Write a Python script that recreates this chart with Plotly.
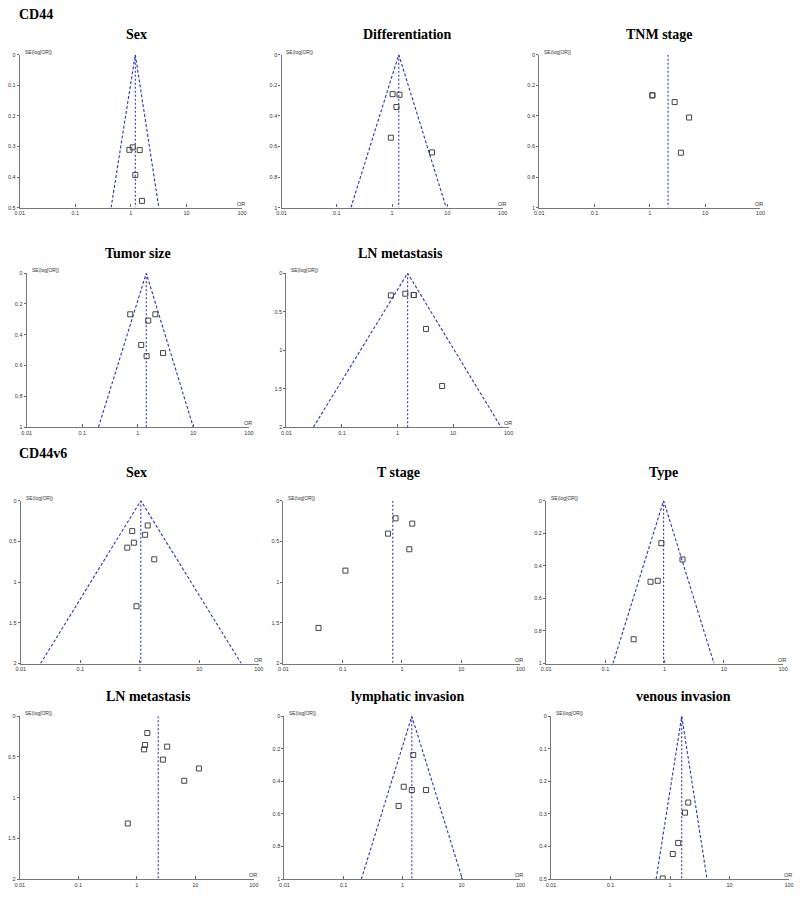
import plotly.graph_objects as go

# ---------------- data ----------------
titles = ["Sex", "Differentiation", "TNM stage", "Tumor size", "LN metastasis",
          "Sex", "T stage", "Type", "LN metastasis", "lymphatic invasion", "venous invasion"]
group_labels = ["CD44", "CD44v6"]

cd44_sex_or = [0.94, 1.08, 1.44, 1.20, 1.58]
cd44_sex_se = [0.311, 0.303, 0.312, 0.393, 0.478]
cd44_diff_or = [1.02, 1.36, 1.20, 0.95, 5.27]
cd44_diff_se = [0.258, 0.262, 0.342, 0.543, 0.639]
cd44_tnm_or = [1.11, 1.11, 2.81, 5.13, 3.64]
cd44_tnm_se = [0.266, 0.266, 0.310, 0.411, 0.641]
cd44_size_or = [0.73, 2.07, 1.54, 1.15, 2.84, 1.44]
cd44_size_se = [0.267, 0.267, 0.308, 0.466, 0.519, 0.539]
cd44_ln_or = [0.76, 1.38, 1.96, 1.96, 3.26, 6.35]
cd44_ln_se = [0.289, 0.267, 0.284, 0.284, 0.724, 1.466]
v6_sex_or = [0.746, 1.36, 1.23, 0.795, 0.616, 1.75, 0.88]
v6_sex_se = [0.374, 0.305, 0.419, 0.516, 0.577, 0.720, 1.297]
v6_t_or = [0.78, 1.49, 0.58, 1.33, 0.111, 0.039]
v6_t_se = [0.217, 0.282, 0.405, 0.597, 0.859, 1.562]
v6_type_or = [0.88, 2.0, 0.577, 0.764, 0.30]
v6_type_se = [0.261, 0.361, 0.498, 0.492, 0.851]
v6_ln_or = [1.51, 1.38, 1.33, 3.30, 2.79, 11.5, 6.47, 0.70]
v6_ln_se = [0.207, 0.354, 0.407, 0.374, 0.533, 0.642, 0.793, 1.317]
v6_lymph_or = [1.52, 1.05, 1.44, 2.51, 0.86]
v6_lymph_se = [0.238, 0.433, 0.453, 0.453, 0.551]
v6_ven_or = [2.02, 1.78, 1.37, 1.11, 0.75]
v6_ven_se = [0.265, 0.296, 0.389, 0.423, 0.498]

pooled_or = [1.20, 1.32, 2.14, 1.42, 1.52, 1.04, 0.70, 0.96, 2.32, 1.44, 1.57]
funnel_lo = [0.44, 0.18, None, 0.196, 0.0306, 0.0215, None, 0.134, None, 0.201, 0.583]
funnel_hi = [3.18, 9.5, None, 9.97, 73.0, 50.8, None, 6.81, None, 10.36, 4.18]
se_max = [0.5, 1, 1, 1, 2, 2, 2, 1, 2, 1, 0.5]
y_dtick = [0.1, 0.2, 0.2, 0.2, 0.5, 0.5, 0.5, 0.2, 0.5, 0.2, 0.1]
x_tick_vals = [0.01, 0.1, 1, 10, 100]
x_tick_text = ["0.01", "0.1", "1", "10", "100"]

points_or = [cd44_sex_or, cd44_diff_or, cd44_tnm_or, cd44_size_or, cd44_ln_or,
             v6_sex_or, v6_t_or, v6_type_or, v6_ln_or, v6_lymph_or, v6_ven_or]
points_se = [cd44_sex_se, cd44_diff_se, cd44_tnm_se, cd44_size_se, cd44_ln_se,
             v6_sex_se, v6_t_se, v6_type_se, v6_ln_se, v6_lymph_se, v6_ven_se]

# ---------------- layout (pixel boxes: left, right, top, bottom) ----------------
W, H = 800, 897
boxes = [(15, 240, 52, 206), (280, 504, 52, 206), (541, 765, 52, 206),
         (22, 247, 272, 427), (285, 510, 272, 427),
         (16, 257, 501, 665), (282, 522, 501, 665), (548, 788, 501, 665),
         (15, 252, 718, 882), (283, 522, 718, 882), (553, 794, 718, 882)]
title_pos = [(133, 32), (408, 32), (663, 32), (135, 252), (400, 252),
             (133, 473), (398, 473), (667, 473), (145, 698), (408, 698), (687, 698)]
group_pos = [(12, 12), (12, 454)]

BLUE = "#3030c0"
TICKFONT = dict(family="Liberation Sans", size=5.5, color="#333")
fig = go.Figure()
annotations = []
layout = {}

for i in range(11):
    n = i + 1
    xa = "x" if n == 1 else f"x{n}"
    ya = "y" if n == 1 else f"y{n}"
    l, r, t, b = boxes[i]
    layout["xaxis" if n == 1 else f"xaxis{n}"] = dict(
        type="log", range=[-2, 2], domain=[l / W, r / W], anchor=ya,
        tickvals=x_tick_vals, ticktext=x_tick_text, ticks="inside", ticklen=3,
        tickcolor="#666", showline=True, linecolor="#777", linewidth=1.3,
        showgrid=False, zeroline=False, ticklabelstandoff=0,
        ticklabeloverflow="allow", tickfont=TICKFONT)
    layout["yaxis" if n == 1 else f"yaxis{n}"] = dict(
        range=[se_max[i], 0], domain=[1 - b / H, 1 - t / H], anchor=xa,
        dtick=y_dtick[i], tick0=0, ticks="outside", ticklen=2, tickcolor="#666",
        showline=True, linecolor="#777", linewidth=1.3, showgrid=False,
        zeroline=False, ticklabeloverflow="allow", tickfont=TICKFONT)

    # vertical pooled line
    fig.add_trace(go.Scatter(x=[pooled_or[i], pooled_or[i]], y=[0, se_max[i]],
                             mode="lines", xaxis=xa, yaxis=ya, showlegend=False,
                             line=dict(color=BLUE, width=1.1, dash="2px,2px")))
    # funnel
    if funnel_lo[i] is not None:
        fig.add_trace(go.Scatter(x=[funnel_lo[i], pooled_or[i], funnel_hi[i]],
                                 y=[se_max[i], 0, se_max[i]],
                                 mode="lines", xaxis=xa, yaxis=ya, showlegend=False,
                                 line=dict(color=BLUE, width=1.1, dash="3px,2px")))
    # studies
    fig.add_trace(go.Scatter(x=points_or[i], y=points_se[i], mode="markers",
                             xaxis=xa, yaxis=ya, showlegend=False,
                             marker=dict(symbol="square-open", size=5,
                                         color="#444", line=dict(width=1, color="#444"))))
    # title
    tx, ty = title_pos[i]
    annotations.append(dict(text=f"<b>{titles[i]}</b>", x=tx / W, y=1 - ty / H,
                            xref="paper", yref="paper", showarrow=False,
                            xanchor="center", yanchor="middle",
                            font=dict(family="Liberation Serif", size=14, color="black")))
    # axis labels
    annotations.append(dict(text="SE(log[OR])", x=(l + 3) / W, y=1 - (t - 3) / H,
                            xref="paper", yref="paper", showarrow=False,
                            xanchor="left", yanchor="middle",
                            font=dict(family="Liberation Sans", size=5, color="#333")))
    annotations.append(dict(text="OR", x=(r - 1) / W, y=1 - (b - 4) / H,
                            xref="paper", yref="paper", showarrow=False,
                            xanchor="center", yanchor="middle",
                            font=dict(family="Liberation Sans", size=5.5, color="#333")))

for g, (gx, gy) in zip(group_labels, group_pos):
    annotations.append(dict(text=f"<b>{g}</b>", x=gx / W, y=1 - gy / H,
                            xref="paper", yref="paper", showarrow=False,
                            xanchor="left", yanchor="middle",
                            font=dict(family="Liberation Serif", size=14, color="black")))

fig.update_layout(width=W, height=H, margin=dict(l=0, r=0, t=0, b=0),
                  paper_bgcolor="white", plot_bgcolor="white",
                  annotations=annotations, **layout)
fig.write_html("out.html", config={"displayModeBar": False},
               post_script="document.body.style.margin='0';document.body.style.overflow='hidden';")
